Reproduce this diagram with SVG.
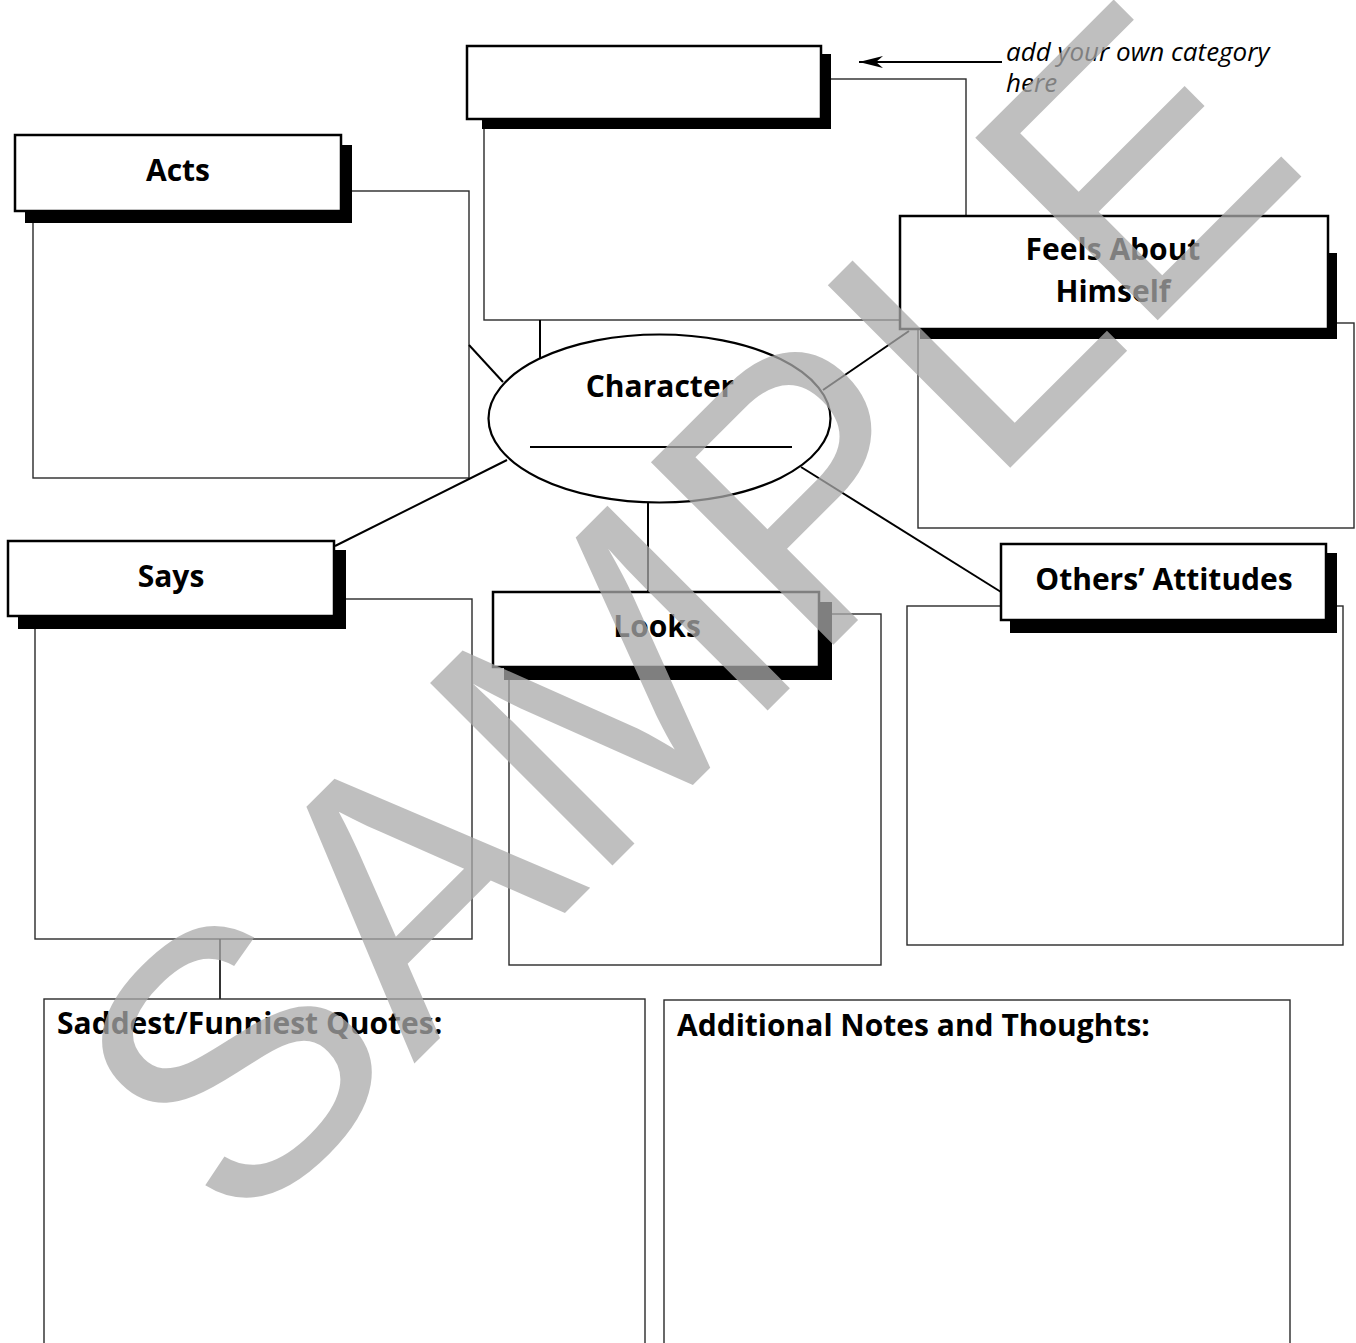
<svg xmlns="http://www.w3.org/2000/svg" width="1356" height="1343" viewBox="0 0 1356 1343">
<style>
.bg{fill:#fff}
.title{fill:#fff;stroke:#000;stroke-width:2.5}
.shadow{fill:#000}
.panel{fill:none;stroke:#2a2a2a;stroke-width:1.4}
.conn{stroke:#000;stroke-width:2;fill:none}
.lbl{font-family:"Open Sans",Lato,"Liberation Sans",sans-serif;font-weight:700;font-size:30px;text-anchor:middle;fill:#000}
.hdr{font-family:"Open Sans",Lato,"Liberation Sans",sans-serif;font-weight:700;font-size:30px;fill:#000}
.note{font-family:"Open Sans",Lato,"Liberation Sans",sans-serif;font-style:italic;font-size:26px;fill:#000}
.wm{font-family:"Liberation Sans",Arial,sans-serif;font-size:375px;fill:#aaa;fill-opacity:0.75}
</style>
<defs>
<marker id="arr" markerWidth="26" markerHeight="14" refX="25" refY="7" orient="auto" markerUnits="userSpaceOnUse">
<path d="M25,7 L1,1 L8,7 L1,13 Z" fill="#000"/>
</marker>
</defs>
<rect class="bg" x="0" y="0" width="1356" height="1343"/>

<g id="panels">
<rect class="panel" x="484" y="79" width="482" height="241"/>
<rect class="panel" x="33" y="191" width="436" height="287"/>
<rect class="panel" x="918" y="323" width="436" height="205"/>
<rect class="panel" x="35" y="599" width="437" height="340"/>
<rect class="panel" x="509" y="614" width="372" height="351"/>
<rect class="panel" x="907" y="606" width="436" height="339"/>
</g>

<g id="connectors">
<line class="conn" x1="469" y1="345" x2="503" y2="382"/>
<line class="conn" x1="540" y1="320" x2="540" y2="358"/>
<line class="conn" x1="823" y1="390" x2="909" y2="331"/>
<line class="conn" x1="801" y1="467" x2="1001" y2="592"/>
<line class="conn" x1="648" y1="503" x2="648" y2="592"/>
<line class="conn" x1="507" y1="460" x2="335" y2="546"/>
<line x1="220" y1="939" x2="220" y2="999" stroke="#000" stroke-width="1.6"/>
<line class="conn" x1="1002" y1="62" x2="859" y2="62" marker-end="url(#arr)"/>
</g>

<g id="node-custom">
<rect class="shadow" x="482" y="54" width="349" height="75"/>
<rect class="title" x="467" y="46" width="354" height="73"/>
</g>

<g id="node-note">
<text class="note" x="1006" y="61">add your own category</text>
<text class="note" x="1006" y="92">here</text>
</g>

<g id="node-acts">
<rect class="shadow" x="25" y="145" width="327" height="78"/>
<rect class="title" x="15" y="135" width="326" height="76"/>
<text class="lbl" x="178" y="181">Acts</text>
</g>

<g id="node-feels">
<rect class="shadow" x="920" y="253" width="417" height="86"/>
<rect class="title" x="900" y="216" width="428" height="113"/>
<text class="lbl" x="1113" y="260">Feels About</text>
<text class="lbl" x="1113" y="302">Himself</text>
</g>

<g id="node-character">
<ellipse cx="659.5" cy="418.5" rx="171" ry="84" fill="#fff" stroke="#000" stroke-width="2.2"/>
<text class="lbl" x="660" y="397">Character</text>
<line x1="530" y1="447" x2="792" y2="447" stroke="#000" stroke-width="2"/>
</g>

<g id="node-says">
<rect class="shadow" x="18" y="550" width="328" height="79"/>
<rect class="title" x="8" y="541" width="326" height="75"/>
<text class="lbl" x="171" y="587">Says</text>
</g>

<g id="node-looks">
<rect class="shadow" x="504" y="602" width="328" height="78"/>
<rect class="title" x="493" y="592" width="326" height="75"/>
<text class="lbl" x="657" y="637">Looks</text>
</g>

<g id="node-others">
<rect class="shadow" x="1010" y="553" width="327" height="80"/>
<rect class="title" x="1001" y="544" width="325" height="76"/>
<text class="lbl" x="1164" y="590">Others’ Attitudes</text>
</g>

<g id="node-quotes">
<rect class="panel" x="44" y="999" width="601" height="370"/>
<text class="hdr" x="57" y="1034">Saddest/Funniest Quotes:</text>
</g>

<g id="node-additional">
<rect class="panel" x="664" y="1000" width="626" height="370"/>
<text class="hdr" x="677" y="1036">Additional Notes and Thoughts:</text>
</g>

<text class="wm" transform="translate(237,1241) rotate(-45)">SAMPLE</text>
</svg>
